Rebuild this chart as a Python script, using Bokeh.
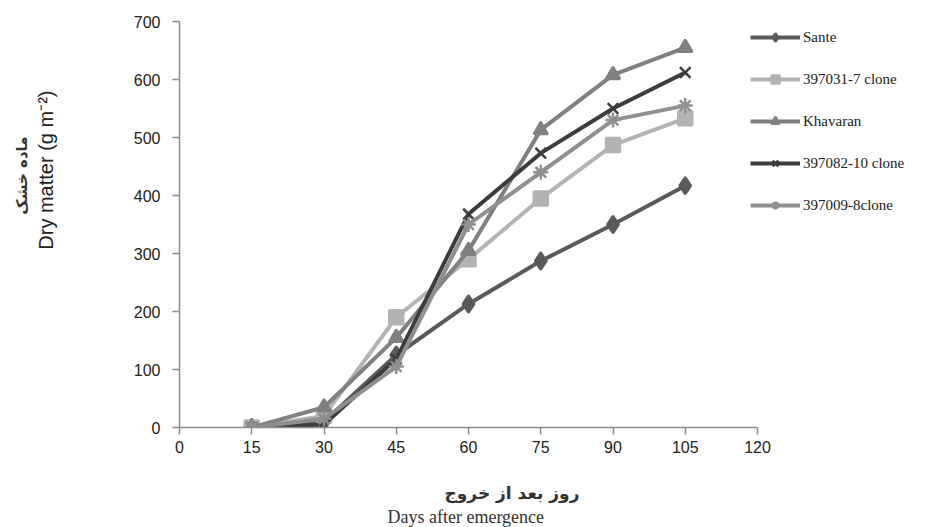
from bokeh.plotting import figure
from bokeh.models import Range1d, Legend, FixedTicker, Title, LinearAxis
from bokeh.embed import file_html
from bokeh.resources import INLINE

days = [15, 30, 45, 60, 75, 90, 105]
sante = [0, 10, 125, 213, 287, 350, 417]
clone_397031 = [0, 20, 190, 290, 395, 487, 533]
khavaran = [0, 35, 155, 305, 513, 608, 655]
clone_397082 = [0, 5, 118, 368, 473, 550, 612]
clone_397009 = [0, 15, 105, 350, 440, 530, 555]

series_names = ["Sante", "397031-7 clone", "Khavaran", "397082-10 clone", "397009-8clone"]
x_ticks = [0, 15, 30, 45, 60, 75, 90, 105, 120]
y_ticks = [0, 100, 200, 300, 400, 500, 600, 700]

y_title_en = "Dry matter (g m\u207b\u00b2)"
y_title_fa = "ماده خشک"
x_title_en = "Days after emergence"
x_title_fa = "روز بعد از خروج"

W, H = 941, 527
LEFT = 179
AXIS_PX = 578          # pixel length of the 0..120 axis
frame_w = W - LEFT
x_end = 120 * frame_w / AXIS_PX   # frame extends right to host the legend

p = figure(width=W, height=H, output_backend="svg", toolbar_location=None,
           x_range=Range1d(0, x_end), y_range=Range1d(0, 700),
           min_border_left=LEFT, min_border_right=0, min_border_top=21,
           min_border_bottom=100)
p.outline_line_color = None
p.xgrid.visible = False
p.ygrid.visible = False

axis_color = "#8c8c8c"
for ax in (p.xaxis[0], p.yaxis[0]):
    ax.axis_line_color = axis_color
    ax.axis_line_width = 1.5
    ax.major_tick_line_color = axis_color
    ax.major_tick_line_width = 1.5
    ax.major_tick_out = 7
    ax.major_tick_in = 0
    ax.minor_tick_line_color = None
    ax.major_label_text_font = "Liberation Sans"
    ax.major_label_text_font_size = "16px"
    ax.major_label_text_color = "#222222"
p.xaxis.ticker = FixedTicker(ticks=x_ticks)
p.yaxis.ticker = FixedTicker(ticks=y_ticks)
p.xaxis.bounds = (0, 120)
p.yaxis.major_label_standoff = 12
p.xaxis.major_label_standoff = 6


def spacer(px):
    # blank axis used only to reserve space in a side panel
    a = LinearAxis(ticker=FixedTicker(ticks=[0]))
    a.axis_line_color = None
    a.major_tick_line_color = "white"
    a.minor_tick_line_color = None
    a.major_tick_in = 0
    a.major_tick_out = px
    a.major_label_standoff = 0
    a.major_label_overrides = {0: ""}
    a.major_label_text_font_size = "0px"
    return a


p.add_layout(spacer(24), "below")
p.add_layout(Title(text=x_title_fa, align="left", offset=265, standoff=2,
                   text_font="DejaVu Sans", text_font_size="17px",
                   text_font_style="bold", text_color="#333333"), "below")
p.add_layout(Title(text=x_title_en, align="left", offset=208, standoff=2,
                   text_font="Liberation Serif", text_font_size="18px",
                   text_font_style="normal", text_color="#333333"), "below")

p.add_layout(spacer(73), "left")
p.add_layout(Title(text=y_title_en, align="right", offset=69, standoff=2,
                   text_font="Liberation Sans", text_font_size="20px",
                   text_font_style="normal", text_color="#222222"), "left")
p.add_layout(Title(text=y_title_fa, align="right", offset=115, standoff=2,
                   text_font="DejaVu Sans", text_font_size="15px",
                   text_font_style="bold", text_color="#333333"), "left")

styles = [
    dict(color="#5a5a5a", marker="diamond", size=17),
    dict(color="#b3b3b3", marker="square", size=14),
    dict(color="#808080", marker="triangle", size=14),
    dict(color="#3c3c3c", marker="x", size=15),
    dict(color="#8f8f8f", marker="asterisk", size=15),
]
data = [sante, clone_397031, khavaran, clone_397082, clone_397009]

items = []
for name, ys, st in zip(series_names, data, styles):
    r1 = p.line(days, ys, line_color=st["color"], line_width=4)
    r2 = p.scatter(days, ys, marker=st["marker"], size=st["size"],
                   fill_color=st["color"], line_color=st["color"], line_width=2.5)
    items.append((name, [r1, r2]))

legend = Legend(items=items, location=(571, 212))
legend.border_line_alpha = 0
legend.background_fill_alpha = 0
legend.padding = 0
legend.margin = 0
legend.glyph_width = 50
legend.glyph_height = 20
legend.label_height = 20
legend.spacing = 22
legend.label_standoff = 3
legend.label_text_font = "Liberation Serif"
legend.label_text_font_size = "15px"
legend.label_text_color = "#222222"
p.add_layout(legend)

open("out.html", "w").write(file_html(p, INLINE))
